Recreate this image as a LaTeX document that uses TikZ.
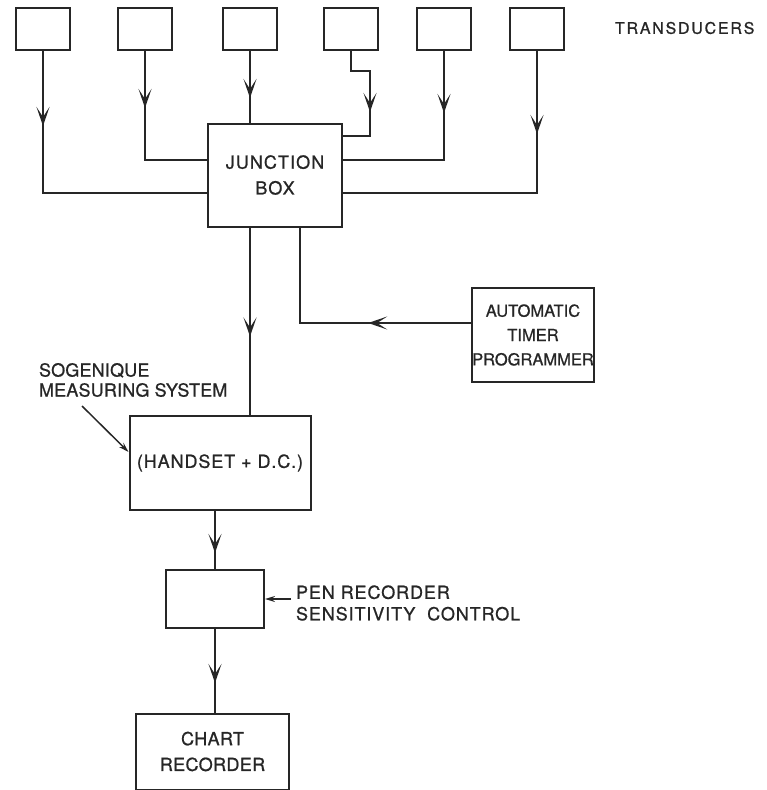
\documentclass[tikz,border=0pt]{standalone}
\usepackage{fontspec}
\usetikzlibrary{arrows.meta,decorations.markings}
\newfontfamily\lett{TeX Gyre Heros}[FakeBold=0.9]
\tikzset{
  blk/.style={draw, line width=2pt, inner sep=0pt, align=center, font=\lett\fontsize{18}{30}\selectfont\addfontfeature{LetterSpace=6}},
  trans/.style={blk, minimum width=54pt, minimum height=42pt},
  lbl/.style={inner sep=0pt, align=left},
  vtip/.tip={Stealth[length=19pt,width=13pt,inset=10pt]},
  arrowat/.style={decoration={markings, mark=at position #1 with {\arrow{vtip}}}, postaction={decorate}},
  smalltip/.style={-{Stealth[length=10pt,width=6pt]}}
}
\begin{document}
\begin{tikzpicture}[x=1pt, y=-1pt, line width=2pt, color=black!85]
\useasboundingbox (0,0) rectangle (767,790);
% transducers
\node[trans] (t1) at (43,29) {};
\node[trans] (t2) at (145,29) {};
\node[trans] (t3) at (250,29) {};
\node[trans] (t4) at (351,29) {};
\node[trans] (t5) at (444,29) {};
\node[trans] (t6) at (537,29) {};
\node[lbl, anchor=west, font=\lett\fontsize{16}{18}\selectfont\addfontfeature{LetterSpace=11}] (tr) at (614,28) {TRANSDUCERS};
% junction box
\node[blk, minimum width=134pt, minimum height=103pt] (jb) at (275,175) {\raisebox{-3pt}{\shortstack{JUNCTION\\[9pt]BOX}}};
% timer
\node[blk, minimum width=120pt, minimum height=94pt, font=\lett\fontsize{16.5}{28.5}\selectfont] (tm) at (533,335) {\raisebox{-2pt}{\shortstack{AUTOMATIC\\[9pt]TIMER\\[9pt]PROGRAMMER}}};
% handset
\node[blk, minimum width=181pt, minimum height=94pt, font=\lett\fontsize{18}{30}\selectfont\addfontfeature{LetterSpace=5}] (hs) at (220,463) {\raisebox{-7pt}{(HANDSET + D.C.)}};
% pen recorder
\node[blk, minimum width=98pt, minimum height=58pt] (pen) at (215,599) {};
% chart recorder
\node[blk, minimum width=153pt, minimum height=76pt, font=\lett\fontsize{18}{28}\selectfont\addfontfeature{LetterSpace=2}] (ch) at (212.5,751.5) {\raisebox{-3pt}{\shortstack{CHART\\[9pt]RECORDER}}};
% labels
\node[lbl, anchor=west, font=\lett\fontsize{18}{20}\selectfont\addfontfeature{LetterSpace=1}] (sog) at (38,380) {SOGENIQUE\\MEASURING SYSTEM};
\node[lbl, anchor=west, font=\lett\fontsize{18}{21.5}\selectfont\addfontfeature{LetterSpace=5}] (psc) at (295,603) {PEN RECORDER\\SENSITIVITY\ \ CONTROL};
\coordinate (sgp) at (82,406);
% transducer connections
\draw[arrowat=75pt] (t1.south) |- ([yshift=-18pt]jb.west);
\draw[arrowat=57pt] (t2.south) |- ([yshift=15pt]jb.west);
\draw[arrowat=47pt] (t3.south) -- (t3.south |- jb.north);
\draw[arrowat=80pt] (t4.south) -- ++(0,20) -| ([xshift=27pt,yshift=39pt]jb.east) -- ([yshift=39pt]jb.east);
\draw[arrowat=62pt] (t5.south) |- ([yshift=15pt]jb.east);
\draw[arrowat=83pt] (t6.south) |- ([yshift=-18pt]jb.east);
% junction to handset
\draw[arrowat=109pt] ([xshift=-25pt]jb.south) -- ([xshift=-25pt]jb.south |- hs.north);
% timer to junction
\draw[arrowat=103pt] ([yshift=12pt]tm.west) -| ([xshift=25pt]jb.south);
% handset to pen, pen to chart
\draw[arrowat=42pt] (hs.south -| pen.north) -- (pen.north);
\draw[arrowat=54pt] (pen.south) -- (pen.south |- ch.north);
% pointers
\draw[smalltip, line width=1.5pt] (psc.west |- pen.east) ++(-4,0) -- (pen.east);
\draw[smalltip, line width=1.5pt] (sgp) -- ([yshift=11pt]hs.west);
\end{tikzpicture}
\end{document}
